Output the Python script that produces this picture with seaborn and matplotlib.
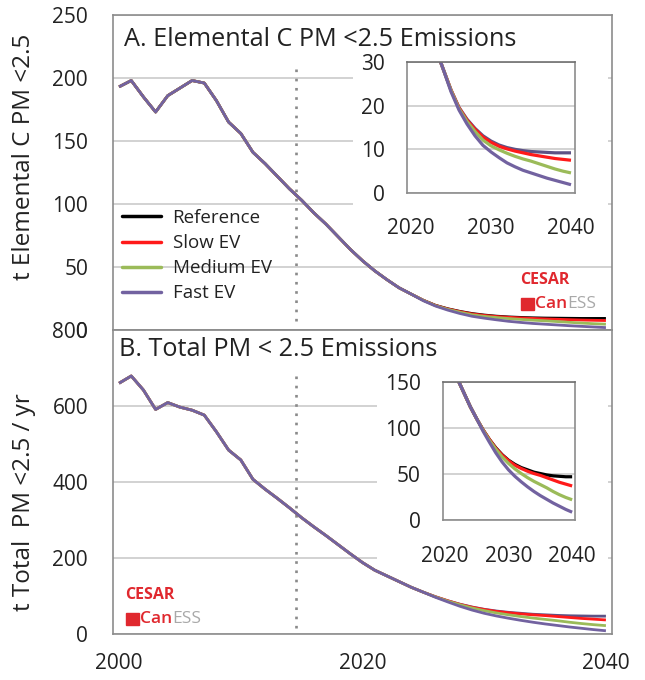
import numpy as np
import pandas as pd
import matplotlib
matplotlib.use("Agg")
import matplotlib.pyplot as plt
import seaborn as sns
from matplotlib.patches import Rectangle
from matplotlib.lines import Line2D
from matplotlib.ticker import MultipleLocator, FixedLocator

# ---------------- data ----------------
years = list(range(2000, 2041))
scenarios = ["Reference", "Slow EV", "Medium EV", "Fast EV"]

# Elemental C PM<2.5 (t), common history 2000-2024
ec_common = [193, 198, 185, 173, 186, 192, 198, 196, 182, 165, 156, 141, 132, 122,
             112, 103, 93, 84, 74, 64, 55, 47, 40, 33.5, 28.5]
# 2025-2040 by scenario
ec_ref = [23.6, 19.6, 16.9, 14.8, 13.1, 11.9, 11.0, 10.4, 10.0, 9.7, 9.5, 9.4, 9.3, 9.2, 9.2, 9.2]
ec_slow = [23.6, 19.5, 16.7, 14.6, 12.8, 11.6, 10.7, 10.1, 9.6, 9.2, 8.8, 8.5, 8.2, 7.9, 7.7, 7.5]
ec_med = [23.5, 19.3, 16.4, 14.1, 12.1, 10.8, 9.9, 9.1, 8.4, 7.8, 7.3, 6.7, 6.1, 5.5, 5.0, 4.6]
ec_fast = [23.2, 19.0, 15.8, 13.1, 10.9, 9.4, 8.1, 6.9, 6.0, 5.2, 4.6, 4.0, 3.4, 2.9, 2.4, 1.9]

# Total PM<2.5 (t/yr), common history 2000-2025
pm_common = [660, 679, 642, 591, 609, 597, 589, 576, 532, 484, 458, 407, 381, 357,
             332, 306, 282, 259, 235, 211, 188, 168, 153, 138, 123, 110]
# 2026-2040 by scenario
pm_ref = [98, 87.5, 78.5, 71, 65, 60.5, 57, 54.5, 52, 50.5, 49, 48, 47.5, 47, 47]
pm_slow = [98, 87.5, 78, 70.5, 64.5, 59.5, 56, 53, 50.5, 48.5, 46, 43.5, 41, 39, 37]
pm_med = [97.5, 86.5, 77, 68.5, 61.5, 55.5, 50.5, 46, 42, 38.5, 35, 31, 27.5, 24.5, 22]
pm_fast = [96.5, 84.5, 73, 63, 54.5, 47.5, 41.5, 36, 31, 26.5, 22.5, 18.5, 15, 11.5, 8.5]

title_a = "A. Elemental C PM <2.5 Emissions"
title_b = "B. Total PM < 2.5 Emissions"
ylabel_a = "t Elemental C PM <2.5"
ylabel_b = "t Total  PM <2.5 / yr"


def long_df(common, tails):
    rows = []
    for s, tail in zip(scenarios, tails):
        vals = list(common) + list(tail)
        for y, v in zip(years, vals):
            rows.append({"year": y, "value": v, "scenario": s})
    return pd.DataFrame(rows)


df_ec = long_df(ec_common, [ec_ref, ec_slow, ec_med, ec_fast])
df_pm = long_df(pm_common, [pm_ref, pm_slow, pm_med, pm_fast])

# ---------------- style ----------------
sns.set_style("white")
plt.rcParams["font.family"] = ["Open Sans", "DejaVu Sans"]
TXT = "#222222"
SP = "#8c8c8c"
GRID = "#c6c6c6"
BLACK, RED, GREEN, PURPLE = "#000000", "#ff1a1a", "#9bbb59", "#7262a0"
DARKPUR = "#5d5285"
TICK_FS = 15

W, H = 645, 680


def fx(x):
    return x / W


def fy(y):
    return 1 - y / H


def rect(l, t, r, b):
    return [l / W, 1 - b / H, (r - l) / W, (b - t) / H]


fig = plt.figure(figsize=(W / 100, H / 100), dpi=100)
fig.patch.set_facecolor("white")


def draw_lines(ax, df, ref_color, lw, xmin=None):
    d = df if xmin is None else df[df["year"] >= xmin]
    pal = {"Reference": ref_color, "Slow EV": RED, "Medium EV": GREEN, "Fast EV": PURPLE}
    sns.lineplot(data=d, x="year", y="value", hue="scenario", hue_order=scenarios,
                 palette=pal, linewidth=lw, errorbar=None, legend=False, ax=ax,
                 solid_capstyle="butt")
    ax.set_xlabel("")
    ax.set_ylabel("")


def style_main(ax, ymax, major, minor, show_x):
    ax.set_xlim(1999.5, 2040.5)
    ax.set_ylim(0, ymax)
    ax.set_axisbelow(True)
    ax.yaxis.set_major_locator(MultipleLocator(major))
    ax.yaxis.set_minor_locator(MultipleLocator(minor))
    ax.grid(axis="y", which="major", color=GRID, lw=1.1)
    ax.grid(axis="x", visible=False)
    for s in ax.spines.values():
        s.set_color(SP)
        s.set_linewidth(1.2)
    ax.tick_params(axis="y", which="both", direction="out", length=6, width=1,
                   color=SP, labelsize=TICK_FS, labelcolor=TXT, pad=12)
    ax.xaxis.set_major_locator(FixedLocator([2000, 2020, 2040]))
    ax.xaxis.set_minor_locator(FixedLocator([1999.5 + 5 * k for k in range(9)]))
    if show_x:
        ax.tick_params(axis="x", which="major", length=0, labelsize=TICK_FS,
                       labelcolor=TXT, pad=14)
        ax.tick_params(axis="x", which="minor", direction="inout", length=10,
                       width=1, color=SP)
    else:
        ax.tick_params(axis="x", which="both", length=0, labelbottom=False)


def style_inset(ax, xlim, ymax, major, minor, xpad):
    ax.set_xlim(*xlim)
    ax.set_ylim(0, ymax)
    ax.set_axisbelow(True)
    ax.set_facecolor("white")
    ax.yaxis.set_major_locator(MultipleLocator(major))
    ax.yaxis.set_minor_locator(MultipleLocator(minor))
    ax.grid(axis="y", which="major", color=GRID, lw=1.1)
    ax.grid(axis="x", visible=False)
    for s in ax.spines.values():
        s.set_color(SP)
        s.set_linewidth(1.2)
    ax.spines["top"].set_color("#6f6f6f")
    ax.tick_params(axis="y", which="both", direction="out", length=6, width=1,
                   color=SP, labelsize=TICK_FS, labelcolor=TXT, pad=10)
    ax.xaxis.set_major_locator(FixedLocator([2020, 2030, 2040]))
    ax.xaxis.set_minor_locator(FixedLocator(list(range(2020, 2041))))
    ax.tick_params(axis="x", which="major", length=0, labelsize=TICK_FS,
                   labelcolor=TXT, pad=xpad)
    ax.tick_params(axis="x", which="minor", direction="inout", length=8,
                   width=1, color="#9a9a9a")


# ---------------- panel A ----------------
axA = fig.add_axes(rect(113, 15, 612, 330))
draw_lines(axA, df_ec, BLACK, 2.0)
style_main(axA, 250, 50, 10, False)
axA.axvline(2014.5, ymin=0.03, ymax=0.84, color="#8a8a8a", lw=1.9,
            ls=(0, (1, 2.5)), zorder=1)
axA.add_patch(Rectangle((fx(353), fy(246)), (608 - 353) / W, (246 - 50) / H,
                        transform=fig.transFigure, facecolor="white",
                        edgecolor="none", zorder=1.5, clip_on=False))

insA = fig.add_axes(rect(407, 62, 575, 193), zorder=3)
draw_lines(insA, df_ec, DARKPUR, 2.3, xmin=2019)
style_inset(insA, (2019.5, 2040.5), 30, 10, 5, 18)

# ---------------- panel B ----------------
axB = fig.add_axes(rect(113, 330, 612, 634))
draw_lines(axB, df_pm, DARKPUR, 2.0)
style_main(axB, 800, 200, 100, True)
axB.axvline(2014.5, ymin=0.02, ymax=0.86, color="#8a8a8a", lw=1.9,
            ls=(0, (1, 2.5)), zorder=1)
axB.add_patch(Rectangle((fx(377), fy(566)), (608 - 377) / W, (566 - 370) / H,
                        transform=fig.transFigure, facecolor="white",
                        edgecolor="none", zorder=1.5, clip_on=False))

insB = fig.add_axes(rect(443, 382, 575, 520), zorder=3)
draw_lines(insB, df_pm, BLACK, 2.3, xmin=2019)
style_inset(insB, (2019.7, 2040.45), 150, 50, 10, 19)

# ---------------- titles & labels ----------------
fig.text(fx(124), fy(40), title_a, fontsize=18.2, color=TXT, va="center", ha="left")
fig.text(fx(119), fy(350), title_b, fontsize=18.2, color=TXT, va="center", ha="left")
fig.text(fx(24), fy(157), ylabel_a, fontsize=17.5, color=TXT, rotation=90,
         va="center", ha="center")
fig.text(fx(24), fy(502), ylabel_b, fontsize=17.5, color=TXT, rotation=90,
         va="center", ha="center")

# legend
handles = [Line2D([], [], color=c, lw=2.5) for c in (BLACK, RED, GREEN, PURPLE)]
fig.legend(handles, scenarios, loc="upper left", bbox_to_anchor=(fx(122), fy(209)),
           frameon=False, fontsize=13.5, handlelength=2.1, handletextpad=0.6,
           labelspacing=0.38, borderpad=0, borderaxespad=0, labelcolor=TXT)

# logos
LRED = "#e0282e"


def logo(xl, yc, yn):
    fig.text(fx(xl), fy(yc), "CESAR", color=LRED, fontsize=11.5, fontweight="bold",
             va="center", ha="left")
    fig.add_artist(Rectangle((fx(xl + 1), fy(yn + 6)), 13 / W, 12 / H,
                             transform=fig.transFigure, color=LRED))
    t = fig.text(fx(xl + 15), fy(yn), "Can", color=LRED, fontsize=12.5,
                 fontweight="semibold", va="center", ha="left")
    fig.canvas.draw()
    bb = t.get_window_extent()
    fig.text(bb.x1 / W, fy(yn), "ESS", color="#a9a9a9", fontsize=12.5,
             va="center", ha="left")


logo(520, 280, 304)
logo(125, 595, 619)

fig.savefig("out.png", dpi=100, facecolor="white")
